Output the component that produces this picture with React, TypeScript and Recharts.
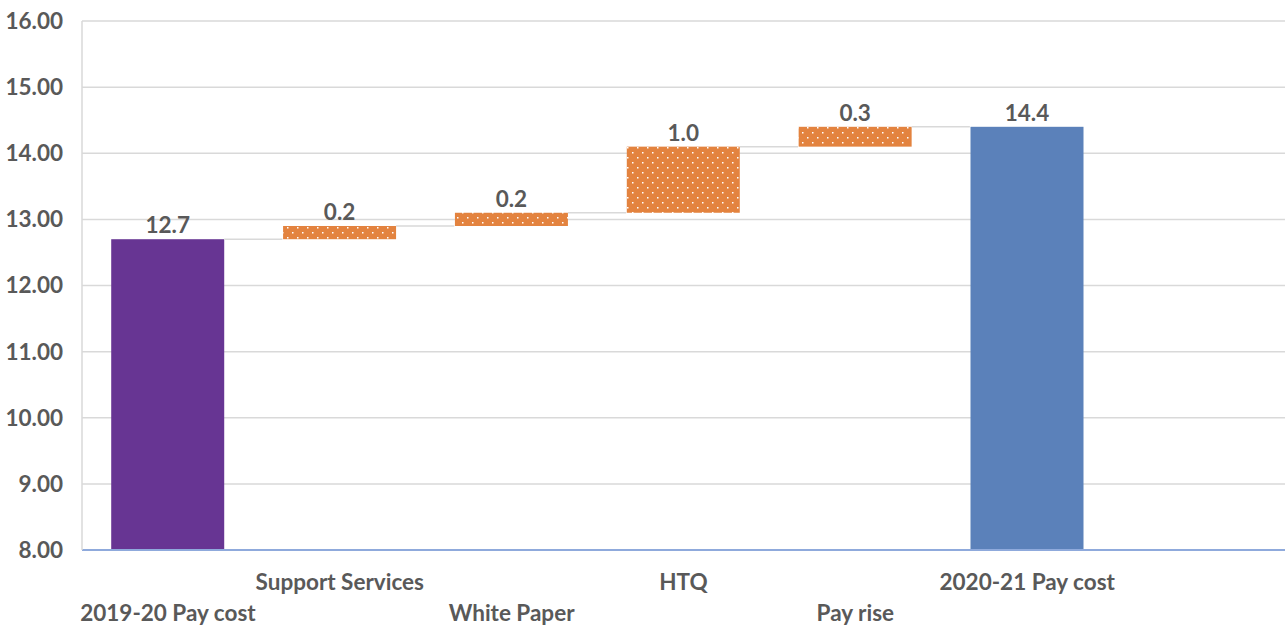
import { ComposedChart, Bar, XAxis, YAxis, CartesianGrid, LabelList } from "recharts";

const categories = [
  "2019-20 Pay cost",
  "Support Services",
  "White Paper",
  "HTQ",
  "Pay rise",
  "2020-21 Pay cost",
  "",
];
const values = [12.7, 0.2, 0.2, 1.0, 0.3, 14.4, null];
const kinds = ["total", "delta", "delta", "delta", "delta", "total", "none"];
const yTicks = [8, 9, 10, 11, 12, 13, 14, 15, 16];

const Y_MIN = yTicks[0];
const TEXT = "#595959";
const FONT = "Lato, 'Liberation Sans', sans-serif";
const CAT_GAP = 0.17;
const totalColors: Record<number, string> = { 0: "#673593", 5: "#5B81BA" };

// running totals for the waterfall
let running = 0;
const data = categories.map((name, i) => {
  const v = values[i];
  const kind = kinds[i];
  let range: number[] | null = null;
  if (kind === "total" && v != null) {
    range = [Y_MIN, v];
    running = v;
  } else if (kind === "delta" && v != null) {
    range = [running, running + v];
    running += v;
  }
  return { name, value: v, range, kind };
});

const lastBar = kinds.lastIndexOf("total");

function WaterfallShape(props: any) {
  const { x, y, width, height, index } = props;
  if (width == null || height == null || !data[index] || !data[index].range) return null;
  const kind = data[index].kind;
  const fill = kind === "total" ? totalColors[index] : "url(#orangeDots)";
  const gap = (width * 2 * CAT_GAP) / (1 - 2 * CAT_GAP);
  return (
    <g>
      <rect x={x} y={y} width={width} height={kind === "total" ? height + 3 : height} fill={fill} />
      {index < lastBar && (
        <line x1={x + width} x2={x + width + gap} y1={y} y2={y} stroke="#D9D9D9" strokeWidth={1.5} />
      )}
    </g>
  );
}

function XTick(props: any) {
  const { x, y, payload, index } = props;
  const dy = index % 2 === 0 ? 71 : 40;
  return (
    <text x={x} y={y + dy} textAnchor="middle" fill={TEXT} fontSize={22.5} fontWeight={700} fontFamily={FONT}>
      {payload.value}
    </text>
  );
}

export default function App() {
  return (
    <div style={{ position: "fixed", left: 0, top: 0, width: 1285, height: 626, background: "#fff" }}>
      <ComposedChart
        width={1285}
        height={626}
        data={data}
        margin={{ top: 21, right: 0, bottom: 0, left: 0 }}
        barCategoryGap={`${CAT_GAP * 100}%`}
      >
        <defs>
          <pattern id="orangeDots" width="10" height="10" patternUnits="userSpaceOnUse">
            <rect width="10" height="10" fill="#E3833F" />
            <rect x="2" y="2" width="1.5" height="1.5" fill="#ffffff" />
            <rect x="7" y="7" width="1.5" height="1.5" fill="#ffffff" />
          </pattern>
        </defs>
        <CartesianGrid vertical={false} stroke="#D9D9D9" strokeWidth={1.5} />
        <XAxis
          dataKey="name"
          height={76}
          interval={0}
          tickLine={false}
          tickSize={0}
          tickMargin={0}
          axisLine={{ stroke: "#8FAADC", strokeWidth: 2 }}
          tick={<XTick />}
        />
        <YAxis
          width={82}
          domain={[Y_MIN, 16]}
          ticks={yTicks}
          allowDataOverflow
          tickFormatter={(v: number) => v.toFixed(2)}
          tickLine={false}
          tickSize={0}
          tickMargin={19}
          axisLine={{ stroke: "#D9D9D9", strokeWidth: 1.5 }}
          tick={{ fill: TEXT, fontSize: 22.5, fontWeight: 700, fontFamily: FONT }}
        />
        <Bar dataKey="range" shape={<WaterfallShape />} isAnimationActive={false}>
          <LabelList
            dataKey="value"
            position="top"
            offset={6}
            formatter={(v: any) => (v == null ? "" : Number(v).toFixed(1))}
            fill={TEXT}
            fontSize={22.5}
            fontWeight={700}
            fontFamily={FONT}
          />
        </Bar>
      </ComposedChart>
    </div>
  );
}
